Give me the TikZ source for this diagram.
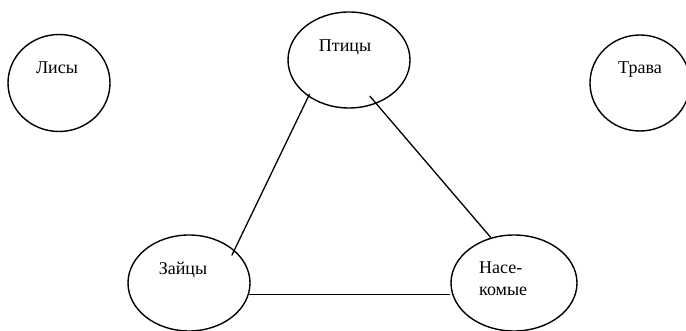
\documentclass[tikz,border=0pt]{standalone}
\usepackage{fontspec}
\setmainfont{Liberation Serif}
\usetikzlibrary{shapes.geometric}
\tikzset{
  oval/.style={draw, ellipse, line width=1.4pt, inner sep=0pt},
  lbl/.style={inner sep=0pt, font=\fontsize{18}{22}\selectfont, align=left},
  link/.style={line width=1.3pt}
}
\begin{document}
\begin{tikzpicture}[x=1pt,y=-1pt]
\useasboundingbox (0,0) rectangle (686,331);
\node[oval, minimum width=102pt, minimum height=97pt] (l) at (59,83) {};
\node[oval, minimum width=122pt, minimum height=96pt] (p) at (349,60) {};
\node[oval, minimum width=100pt, minimum height=96pt] (t) at (640,83) {};
\node[oval, minimum width=122pt, minimum height=96pt] (z) at (189,283) {};
\node[oval, minimum width=126pt, minimum height=96pt] (n) at (514,283) {};
\node[lbl] (lt) at (57,68) {Лисы};
\node[lbl] (pt) at (345,47) {Птицы};
\node[lbl] (tt) at (640,70) {Трава};
\node[lbl] (zt) at (183,270) {Зайцы};
\node[lbl, anchor=west] (nt) at (479,279) {Насе-\\комые};
\draw[link, shorten <=-3pt, shorten >=-6pt] (p.222) -- (z.36);
\draw[link, shorten <=-10pt] (p.302) -- (n.117);
\draw[link] (z.-11.5) -- (z.-11.5 -| n.west);
\end{tikzpicture}
\end{document}
